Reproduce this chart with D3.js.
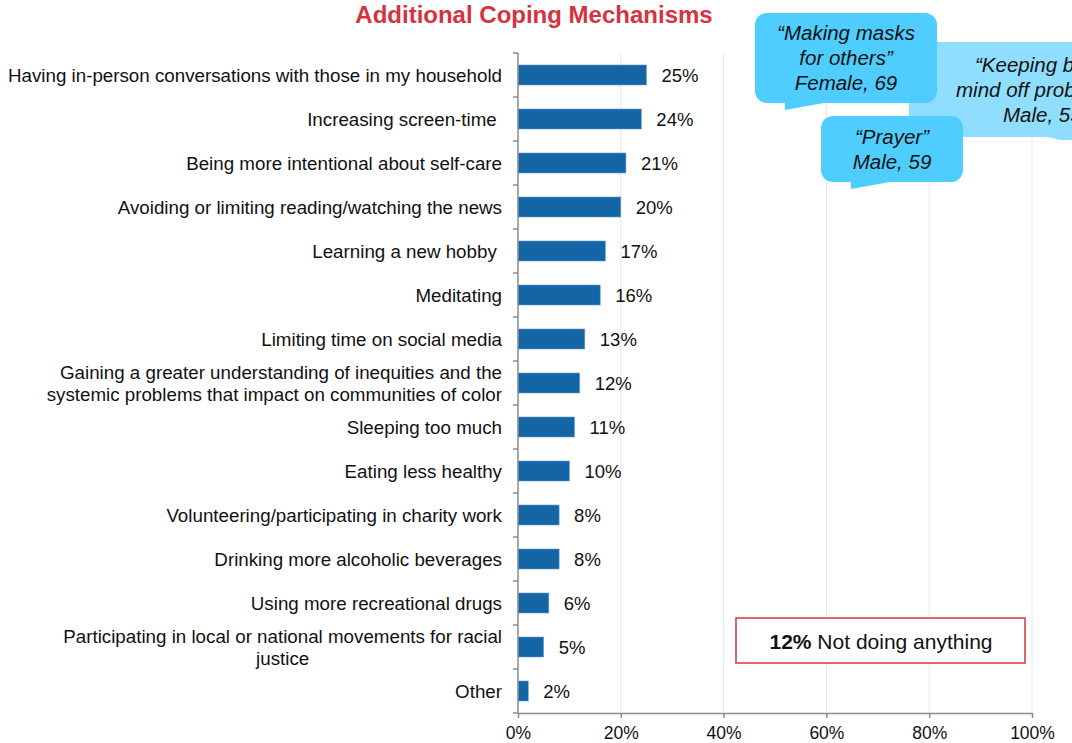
<!DOCTYPE html>
<html><head><meta charset="utf-8">
<script src="https://cdn.jsdelivr.net/npm/d3@7"></script>
<style>
body{margin:0;background:#fff;}
svg{font-family:"Liberation Sans",Arial,sans-serif;}
</style></head>
<body><svg id="c" width="1072" height="743"></svg>
<script>
const categories = [
 "Having in-person conversations with those in my household",
 "Increasing screen-time ",
 "Being more intentional about self-care",
 "Avoiding or limiting reading/watching the news",
 "Learning a new hobby ",
 "Meditating",
 "Limiting time on social media",
 "Gaining a greater understanding of inequities and the\nsystemic problems that impact on communities of color",
 "Sleeping too much",
 "Eating less healthy",
 "Volunteering/participating in charity work",
 "Drinking more alcoholic beverages",
 "Using more recreational drugs",
 "Participating in local or national movements for racial\njustice",
 "Other"
];
const values = [25,24,21,20,17,16,13,12,11,10,8,8,6,5,2];
const xTicks = [0,20,40,60,80,100];
const title = "Additional Coping Mechanisms";
const quotes = [
 {lines:["\u201CKeeping busy to keep my","mind off problems\u201D","Male, 55"], x0:909, x1:1090, y0:42, y1:137, fill:"#8fdeff", r:3, tail:"right", anchor:"start", tx:[975,956,1003]},
 {lines:["\u201CMaking masks","for others\u201D","Female, 69"], x0:755, x1:937, y0:13, y1:103, fill:"#4fcdff", r:12, tail:"left"},
 {lines:["\u201CPrayer\u201D","Male, 59"], x0:821, x1:963, y0:116, y1:182, fill:"#4fcdff", r:12, tail:"left"}
];
const noneValue = "12%", noneText = " Not doing anything";

const svg = d3.select("#c");
const x = d3.scaleLinear().domain([0,100]).range([518,1032]);
const y = d3.scaleBand().domain(categories).range([53,713]).paddingInner(0.545).paddingOuter(0.2725);

// gridlines
svg.append("g").selectAll("line").data(xTicks.slice(1)).join("line")
 .attr("x1",d=>x(d)).attr("x2",d=>x(d)).attr("y1",53).attr("y2",713)
 .attr("stroke","#e6e6e6").attr("stroke-width",1);

// title
svg.append("text").attr("x",534).attr("y",23).attr("text-anchor","middle")
 .attr("font-size",24).attr("font-weight","bold").attr("fill","#d6323f").text(title);

// bubbles
quotes.forEach(q=>{
  const g = svg.append("g");
  g.append("rect").attr("x",q.x0).attr("y",q.y0).attr("width",q.x1-q.x0).attr("height",q.y1-q.y0)
   .attr("rx",q.r).attr("fill",q.fill);
  let pts;
  if(q.tail==="left") pts=[[q.x0+30,q.y1-2],[q.x0+30,q.y1+7],[q.x0+80,q.y1-2]];
  else pts=[[1040,q.y1-2],[1060,q.y1+3],[1072,q.y1+3],[1072,q.y1-2]];
  g.append("polygon").attr("points",pts.map(p=>p.join(",")).join(" ")).attr("fill",q.fill);
  const cx=(q.x0+q.x1)/2, cy=(q.y0+q.y1)/2, lh=25;
  q.lines.forEach((l,i)=>{
    g.append("text")
     .attr("x",q.anchor==="start"?q.tx[i]:cx)
     .attr("y",cy+(i-(q.lines.length-1)/2)*lh+7)
     .attr("text-anchor",q.anchor==="start"?"start":"middle")
     .attr("font-size",20.5).attr("font-style","italic").attr("fill","#111").text(l);
  });
});

// bars
svg.append("g").selectAll("rect").data(values).join("rect")
 .attr("x",x(0)).attr("y",(d,i)=>y(categories[i])).attr("width",d=>x(d)-x(0)).attr("height",y.bandwidth())
 .attr("fill","#1465a6").attr("stroke","#6fa3cf").attr("stroke-width",0.6);

// value labels
svg.append("g").selectAll("text").data(values).join("text")
 .attr("x",d=>x(d)+15).attr("y",(d,i)=>y(categories[i])+y.bandwidth()/2+6.5)
 .attr("font-size",18.5).attr("fill","#111").text(d=>d+"%");

// category labels
const lab = svg.append("g");
categories.forEach(c=>{
  const ls=c.split("\n"), cy=y(c)+y.bandwidth()/2;
  const nodes = ls.map((l,i)=>lab.append("text").attr("y",cy+(i-(ls.length-1)/2)*22+6.5)
     .attr("font-size",18.75).attr("fill","#111").style("white-space","pre").text(l));
  const w = d3.max(nodes,n=>n.node().getComputedTextLength());
  nodes.forEach(n=>{
    const lw = n.node().getComputedTextLength();
    if(lw < w/2) n.attr("x",502-w/2).attr("text-anchor","middle");
    else n.attr("x",502).attr("text-anchor","end");
  });
});

// y axis
const yb = categories.map(c=>y(c)-y.step()*y.paddingInner()/2).concat([713]);
svg.append("line").attr("x1",518).attr("x2",518).attr("y1",53).attr("y2",713).attr("stroke","#8c8c8c").attr("stroke-width",1.5);
svg.append("g").selectAll("line").data(yb).join("line")
 .attr("x1",513).attr("x2",518).attr("y1",d=>d).attr("y2",d=>d).attr("stroke","#8c8c8c").attr("stroke-width",1.5);

// x axis
const xa = svg.append("g").attr("transform","translate(0,713)")
 .call(d3.axisBottom(x).tickValues(xTicks).tickFormat(d=>d+"%").tickSize(5).tickSizeOuter(0));
xa.select(".domain").attr("stroke","#8c8c8c").attr("stroke-width",1.5);
xa.selectAll(".tick line").attr("stroke","#8c8c8c").attr("stroke-width",1.5);
xa.selectAll(".tick text").attr("font-size",17.5).attr("fill","#111").attr("y",26).attr("dy",0)
 .attr("font-family","Liberation Sans, Arial, sans-serif");

// not doing anything box
const bx = svg.append("g");
bx.append("rect").attr("x",736).attr("y",618).attr("width",289).attr("height",45)
 .attr("fill","#fff").attr("stroke","#d6323f").attr("stroke-width",1.5);
const t = bx.append("text").attr("x",881).attr("y",648.5).attr("text-anchor","middle").attr("font-size",21).attr("fill","#111");
t.append("tspan").attr("font-weight","bold").text(noneValue);
t.append("tspan").style("white-space","pre").text(noneText);
</script></body></html>
